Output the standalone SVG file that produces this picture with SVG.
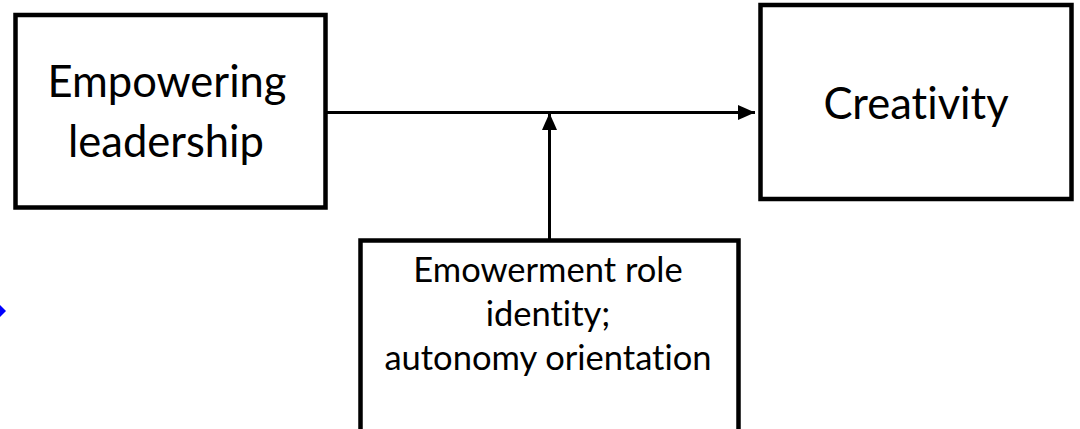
<svg xmlns="http://www.w3.org/2000/svg" width="1080" height="429" viewBox="0 0 1080 429">
  <style>
    .box { fill: #ffffff; stroke: #000000; stroke-width: 4.5; }
    .lbl { font-family: Lato, "Open Sans", "Liberation Sans", sans-serif; fill: #000000; text-anchor: middle; font-variant-ligatures: none; }
    .big { font-size: 43.5px; }
    .small { font-size: 34.5px; }
    .wire { stroke: #000000; stroke-width: 3; fill: none; }
  </style>
  <defs>
    <marker id="head" viewBox="0 0 17 15" refX="17" refY="7.5" markerWidth="17" markerHeight="15" markerUnits="userSpaceOnUse" orient="auto">
      <path d="M0,0 L17,7.5 L0,15 Z" fill="#000000"/>
    </marker>
  </defs>
  <rect width="1080" height="429" fill="#ffffff"/>

  <g id="connectors">
    <line class="wire" x1="325" y1="112.5" x2="755" y2="112.5" marker-end="url(#head)"/>
    <line class="wire" x1="549.5" y1="240" x2="549.5" y2="113" marker-end="url(#head)"/>
  </g>

  <g id="empowering-leadership">
    <rect class="box" x="15.5" y="15" width="310" height="192.5"/>
    <text class="lbl big" x="167" y="97">Empowering</text>
    <text class="lbl big" x="166" y="157">leadership</text>
  </g>

  <g id="creativity">
    <rect class="box" x="760.5" y="5" width="311" height="194"/>
    <text class="lbl big" x="916" y="119">Creativity</text>
  </g>

  <g id="moderator">
    <rect class="box" x="360.5" y="240.5" width="378" height="200"/>
    <text class="lbl small" x="548" y="282">Emowerment role</text>
    <text class="lbl small" x="548" y="326">identity;</text>
    <text class="lbl small" x="548" y="370">autonomy orientation</text>
  </g>

  <!-- small blue pointer at the left edge -->
  <polygon points="0,305 6,311 0,317" fill="#0000ff"/>
</svg>
